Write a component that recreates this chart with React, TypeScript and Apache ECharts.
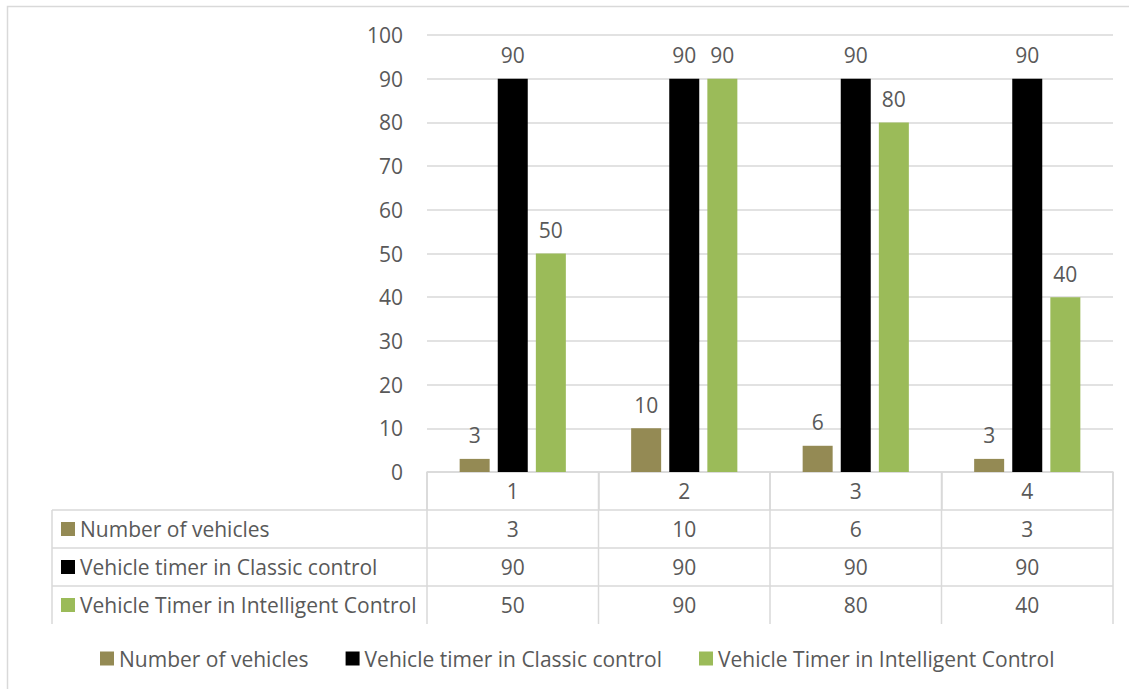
import React, { useEffect, useRef } from "react";
import * as echarts from "echarts";

const categories = ["1", "2", "3", "4"];
const seriesNames = [
  "Number of vehicles",
  "Vehicle timer in Classic control",
  "Vehicle Timer in Intelligent Control",
];
const numberOfVehicles = [3, 10, 6, 3];
const classicTimer = [90, 90, 90, 90];
const intelligentTimer = [50, 90, 80, 40];
const seriesColors = ["#948A54", "#000000", "#9BBB59"];

const FONT = "'Open Sans', Lato, sans-serif";
const FS = 21;
const TEXT = "#595959";
const LINE = "#D9D9D9";

export default function App() {
  const ref = useRef<HTMLDivElement>(null);
  useEffect(() => {
    if (!ref.current) return;
    const chart = echarts.init(ref.current, null, { renderer: "svg" });
    const W = 1129;
    const H = 689;
    const gridLeft = 427;
    const gridRight = 16;
    const gridTop = 35;
    const gridBottom = 217;
    const axisY = H - gridBottom; // 472
    const rowH = 38;
    const tableLeft = 52;
    const tableRight = W - gridRight;
    const allSeries = [numberOfVehicles, classicTimer, intelligentTimer];

    const labelStyle = {
      show: true,
      position: "top" as const,
      distance: 13,
      color: TEXT,
      fontSize: FS,
      fontFamily: FONT,
    };

    chart.setOption({
      animation: false,
      backgroundColor: "#ffffff",
      grid: { left: gridLeft, right: gridRight, top: gridTop, bottom: gridBottom },
      legend: {
        bottom: 15,
        left: 95,
        icon: "rect",
        itemWidth: 14,
        itemHeight: 14,
        itemGap: 37,
        textStyle: { color: TEXT, fontSize: FS, fontFamily: FONT },
        data: seriesNames,
      },
      xAxis: {
        type: "category",
        data: categories,
        axisLine: { show: true, lineStyle: { color: LINE, width: 1.5 } },
        axisTick: {
          show: true,
          length: rowH,
          lineStyle: { color: LINE, width: 1.5 },
        },
        axisLabel: { color: TEXT, fontSize: FS, fontFamily: FONT, margin: 8 },
      },
      yAxis: {
        type: "value",
        min: 0,
        max: 100,
        interval: 10,
        axisLine: { show: false },
        axisTick: { show: false },
        splitLine: { lineStyle: { color: LINE, width: 1.5 } },
        axisLabel: { color: TEXT, fontSize: FS, fontFamily: FONT, margin: 24 },
      },
      series: allSeries.map((d, i) => ({
        name: seriesNames[i],
        type: "bar",
        data: d,
        barWidth: 30,
        barGap: "27%",
        itemStyle: { color: seriesColors[i] },
        label: labelStyle,
      })),
    });

    const catW = (tableRight - gridLeft) / categories.length;
    const graphics: any[] = [];
    graphics.push({
      type: "rect",
      shape: { x: 7.5, y: 6.5, width: W + 20, height: H + 20 },
      style: { fill: "none", stroke: LINE, lineWidth: 1.5 },
      silent: true,
    });
    for (let r = 1; r <= 3; r++) {
      const y = axisY + rowH * r;
      graphics.push({
        type: "line",
        shape: { x1: tableLeft, y1: y, x2: tableRight, y2: y },
        style: { stroke: LINE, lineWidth: 1.5 },
      });
    }
    const vx = [tableLeft, gridLeft];
    for (let c = 1; c <= categories.length; c++) vx.push(gridLeft + catW * c);
    vx.forEach((x, idx) => {
      graphics.push({
        type: "line",
        shape: { x1: x, y1: idx === 0 ? axisY + rowH : axisY, x2: x, y2: axisY + rowH * 4 },
        style: { stroke: LINE, lineWidth: 1.5 },
      });
    });
    allSeries.forEach((d, i) => {
      const cy = axisY + rowH * (i + 1) + rowH / 2;
      graphics.push({
        type: "rect",
        shape: { x: 61, y: cy - 7, width: 14, height: 14 },
        style: { fill: seriesColors[i] },
      });
      graphics.push({
        type: "text",
        x: 80,
        y: cy,
        style: {
          text: seriesNames[i],
          fill: TEXT,
          fontSize: FS,
          fontFamily: FONT,
          verticalAlign: "middle",
          align: "left",
        },
      });
      d.forEach((v, c) => {
        graphics.push({
          type: "text",
          x: gridLeft + catW * (c + 0.5),
          y: cy,
          style: {
            text: String(v),
            fill: TEXT,
            fontSize: FS,
            fontFamily: FONT,
            verticalAlign: "middle",
            align: "center",
          },
        });
      });
    });
    chart.setOption({ graphic: { elements: graphics } });

    return () => chart.dispose();
  }, []);
  return (
    <div
      ref={ref}
      style={{ position: "fixed", left: 0, top: 0, width: 1129, height: 689, background: "#fff" }}
    />
  );
}
